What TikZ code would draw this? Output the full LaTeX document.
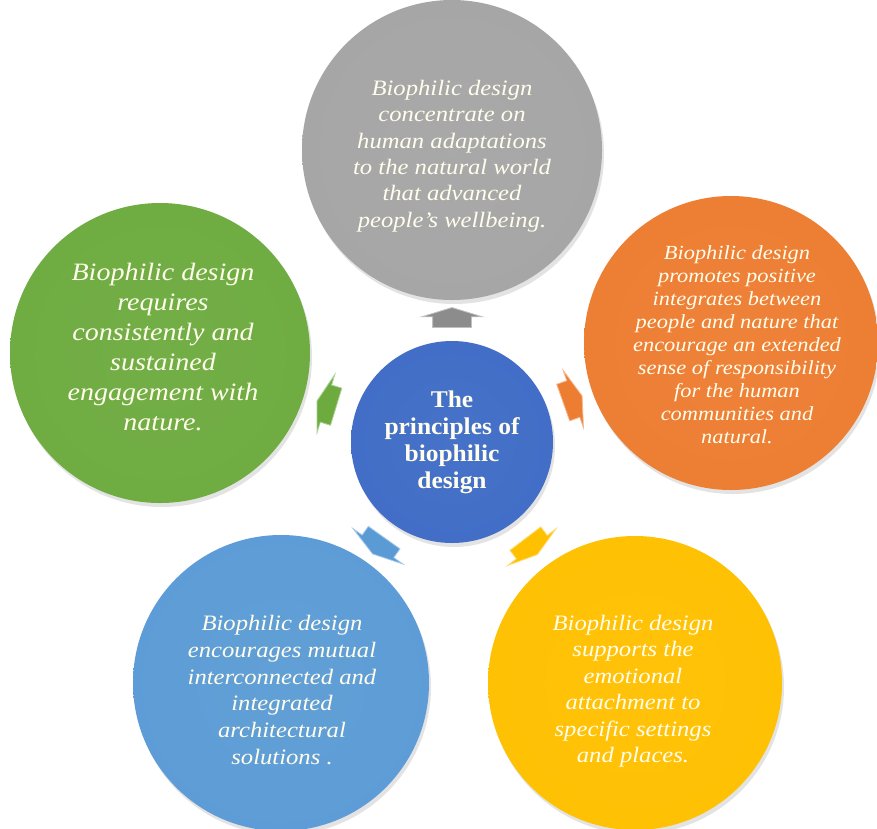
\documentclass[tikz,border=0pt]{standalone}
\usepackage{fontspec}
\setmainfont{Liberation Serif}
\newfontfamily\ballfont{Liberation Serif}[FakeStretch=1.12]
\newfontfamily\hubfont{Liberation Serif}[FakeStretch=1.06]
\usetikzlibrary{shapes.arrows,shadows}
\definecolor{cgray}{HTML}{A5A5A5}
\definecolor{corange}{HTML}{ED7D31}
\definecolor{cgreen}{HTML}{6DAB3F}
\definecolor{cblue}{HTML}{5B9BD5}
\definecolor{cyellow}{HTML}{FFC000}
\definecolor{chub}{HTML}{3F6CC6}
\definecolor{textcol}{RGB}{255,253,236}
\colorlet{ballbase}{cgray}
\pgfdeclareradialshading[ballbase]{rimball}{\pgfpoint{0bp}{0bp}}{%
  color(0bp)=(ballbase!96!white);
  color(38bp)=(ballbase);
  color(44bp)=(ballbase!88!white);
  color(48.3bp)=(ballbase!62!white);
  color(49.4bp)=(ballbase!85!white);
  color(50bp)=(ballbase!82!black)}
\tikzset{
  ball/.style={circle, inner sep=0pt, minimum size={2*#1}, shading=rimball,
    drop shadow={opacity=.22, shadow xshift=2pt, shadow yshift=-4pt}},
  ballcol/.code={\colorlet{ballbase}{#1}},
  txt/.style={align=center, text=textcol, inner sep=0pt},
  blockarrow/.style={single arrow, sloped, allow upside down,
    inner xsep=0pt, inner ysep=19pt, minimum width=0pt,
    minimum height=20pt, single arrow head extend=11pt,
    single arrow tip angle=146,
    fill=#1, draw=#1!55!white, line width=0.8pt}
}
\begin{document}
\begin{tikzpicture}[x=1pt, y=-1pt]
\useasboundingbox (0,0) rectangle (877,828);
\fill[white] (0,0) rectangle (877,828);

\node[ball=150, ballcol=cgray]   (g) at (452,150) {};
\node[ball=147, ballcol=corange] (o) at (731,343) {};
\node[ball=150, ballcol=cgreen]  (l) at (160,353) {};
\node[ball=148, ballcol=cblue]   (b) at (281,683) {};
\node[ball=147, ballcol=cyellow] (y) at (635,683) {};
\node[ball=101, ballcol=chub]    (c) at (452,442) {};

\node[txt, font=\ballfont\itshape\fontsize{22}{26.4}\selectfont] (gt) at (452,156)
  {Biophilic design\\concentrate on\\human adaptations\\to the natural world\\that advanced\\people’s wellbeing.};
\node[txt, font=\ballfont\itshape\fontsize{25}{30}\selectfont] (lt) at (163,347)
  {Biophilic design\\requires\\consistently and\\sustained\\engagement with\\nature.};
\node[txt, font=\ballfont\itshape\fontsize{20}{23}\selectfont] (ot) at (737,345)
  {Biophilic design\\promotes positive\\integrates between\\people and nature that\\encourage an extended\\sense of responsibility\\for the human\\communities and\\natural.};
\node[txt, font=\ballfont\itshape\fontsize{22}{26.7}\selectfont] (bt) at (282,690)
  {Biophilic design\\encourages mutual\\interconnected and\\integrated\\architectural\\solutions .};
\node[txt, font=\ballfont\itshape\fontsize{22}{26.5}\selectfont] (yt) at (633,691)
  {Biophilic design\\supports the\\emotional\\attachment to\\specific settings\\and places.};
\node[txt, font=\hubfont\bfseries\fontsize{24}{27}\selectfont] (ct) at (452,442)
  {The\\principles of\\biophilic\\design};

\path (c) -- node[blockarrow=cgray!85!black] (ag) {} (g);
\path (c) -- node[blockarrow=corange] (ao) {} (o);
\path (c) -- node[blockarrow=cgreen] (al) {} (l);
\path (c) -- node[blockarrow=cblue] (ab) {} (b);
\path (c) -- node[blockarrow=cyellow] (ay) {} (y);
\end{tikzpicture}
\end{document}
